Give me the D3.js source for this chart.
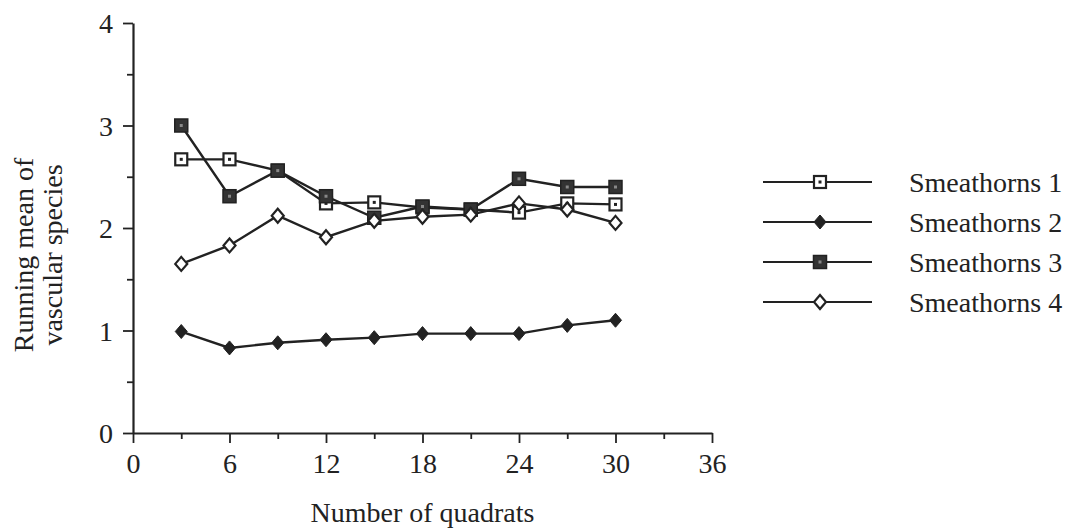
<!DOCTYPE html>
<html>
<head>
<meta charset="utf-8">
<script src="https://cdn.jsdelivr.net/npm/d3@7"></script>
<style>
  body { margin: 0; background: #fff; }
  svg text { font-family: "Liberation Serif", "Times New Roman", serif; fill: #222; }
</style>
</head>
<body>
<div id="chart"></div>
<script>
var svgWidth = 1082;
var svgHeight = 531;

var margin = { top: 23, right: 370, bottom: 98, left: 133 };
var width = 712 - margin.left;
var height = 433 - margin.top;

// data
var quadrats = [3, 6, 9, 12, 15, 18, 21, 24, 27, 30];
var smeathorns1 = [2.67, 2.67, 2.56, 2.24, 2.25, 2.20, 2.18, 2.15, 2.24, 2.23];
var smeathorns2 = [0.99, 0.83, 0.88, 0.91, 0.93, 0.97, 0.97, 0.97, 1.05, 1.10];
var smeathorns3 = [3.00, 2.31, 2.56, 2.31, 2.10, 2.21, 2.18, 2.48, 2.40, 2.40];
var smeathorns4 = [1.65, 1.83, 2.12, 1.91, 2.07, 2.11, 2.13, 2.24, 2.18, 2.05];
var seriesNames = ["Smeathorns 1", "Smeathorns 2", "Smeathorns 3", "Smeathorns 4"];
var xTicks = [0, 6, 12, 18, 24, 30, 36];
var yTicks = [0, 1, 2, 3, 4];

var series = [
  { name: seriesNames[0], values: smeathorns1, marker: "openSquare" },
  { name: seriesNames[1], values: smeathorns2, marker: "filledDiamond" },
  { name: seriesNames[2], values: smeathorns3, marker: "filledSquare" },
  { name: seriesNames[3], values: smeathorns4, marker: "openDiamond" }
];

var ink = "#222";

var svg = d3.select("#chart")
  .append("svg")
  .attr("width", svgWidth)
  .attr("height", svgHeight);

var chartGroup = svg.append("g")
  .attr("transform", `translate(${margin.left}, ${margin.top})`);

var xScale = d3.scaleLinear().domain([0, 36]).range([0, width]);
var yScale = d3.scaleLinear().domain([0, 4]).range([height, 0]);

// minor ticks first
chartGroup.append("g")
  .attr("transform", `translate(0, ${height})`)
  .call(d3.axisBottom(xScale).tickValues(d3.range(3, 36, 6)).tickSize(6).tickFormat(""))
  .call(g => g.select(".domain").remove());
chartGroup.append("g")
  .call(d3.axisLeft(yScale).tickValues([0.5, 1.5, 2.5, 3.5]).tickSize(6).tickFormat(""))
  .call(g => g.select(".domain").remove());

// main axes
var xAxis = chartGroup.append("g")
  .attr("transform", `translate(0, ${height})`)
  .call(d3.axisBottom(xScale).tickValues(xTicks).tickFormat(d3.format("d"))
    .tickSize(10).tickSizeOuter(0).tickPadding(10));
var yAxis = chartGroup.append("g")
  .call(d3.axisLeft(yScale).tickValues(yTicks).tickFormat(d3.format("d"))
    .tickSize(10).tickSizeOuter(0).tickPadding(10));

chartGroup.selectAll(".tick line").attr("stroke", ink).attr("stroke-width", 1.8);
chartGroup.selectAll(".domain").attr("stroke", ink).attr("stroke-width", 2.2);
chartGroup.selectAll(".tick text")
  .attr("font-size", 28)
  .style("font-family", "Liberation Serif, serif")
  .attr("fill", ink);
yAxis.selectAll(".tick text").attr("dy", "0.35em");

// lines
var line = d3.line()
  .x((d, i) => xScale(quadrats[i]))
  .y(d => yScale(d));

chartGroup.selectAll(".series-line")
  .data(series)
  .enter()
  .append("path")
  .attr("class", "series-line")
  .attr("d", d => line(d.values))
  .attr("fill", "none")
  .attr("stroke", ink)
  .attr("stroke-width", 2.4);

// marker drawing
function drawMarker(g, type) {
  if (type === "openSquare") {
    g.append("rect").attr("x", -6).attr("y", -6).attr("width", 12).attr("height", 12)
      .attr("fill", "#fff").attr("stroke", ink).attr("stroke-width", 2.2);
    g.append("rect").attr("x", -1.5).attr("y", -1.5).attr("width", 3).attr("height", 3).attr("fill", ink);
  } else if (type === "filledSquare") {
    g.append("rect").attr("x", -6.5).attr("y", -6.5).attr("width", 13).attr("height", 13)
      .attr("fill", "#333").attr("stroke", ink).attr("stroke-width", 1.5);
    g.append("rect").attr("x", -1.5).attr("y", -1.5).attr("width", 3).attr("height", 3).attr("fill", "#888");
  } else if (type === "filledDiamond") {
    g.append("path").attr("d", "M0,-7L6,0L0,7L-6,0Z").attr("fill", ink).attr("stroke", ink).attr("stroke-width", 1);
  } else {
    g.append("path").attr("d", "M0,-7L6,0L0,7L-6,0Z").attr("fill", "#fff").attr("stroke", ink).attr("stroke-width", 2.2);
  }
}

series.forEach(function(s) {
  chartGroup.append("g")
    .selectAll("g")
    .data(s.values)
    .enter()
    .append("g")
    .attr("transform", (d, i) => `translate(${xScale(quadrats[i])}, ${yScale(d)})`)
    .each(function() { drawMarker(d3.select(this), s.marker); });
});

// axis labels
svg.append("text")
  .attr("x", margin.left + xScale(18))
  .attr("y", 522)
  .attr("text-anchor", "middle")
  .attr("font-size", 28)
  .text("Number of quadrats");

var yLabel = svg.append("text")
  .attr("transform", "translate(0, 255) rotate(-90)")
  .attr("text-anchor", "middle")
  .attr("font-size", 28);
yLabel.append("tspan").attr("x", 0).attr("y", 33).text("Running mean of");
yLabel.append("tspan").attr("x", 0).attr("y", 62).text("vascular species");

// legend
var legend = svg.append("g").attr("transform", "translate(763, 182)");
var legendRows = legend.selectAll("g")
  .data(series)
  .enter()
  .append("g")
  .attr("transform", (d, i) => `translate(0, ${i * 40})`);

legendRows.append("line")
  .attr("x1", 0).attr("x2", 109)
  .attr("stroke", ink).attr("stroke-width", 2.2);
legendRows.append("g")
  .attr("transform", "translate(57, 0)")
  .each(function(d) { drawMarker(d3.select(this), d.marker); });
legendRows.append("text")
  .attr("x", 146)
  .attr("dy", "0.35em")
  .attr("font-size", 28)
  .text(d => d.name);
</script>
</body>
</html>
